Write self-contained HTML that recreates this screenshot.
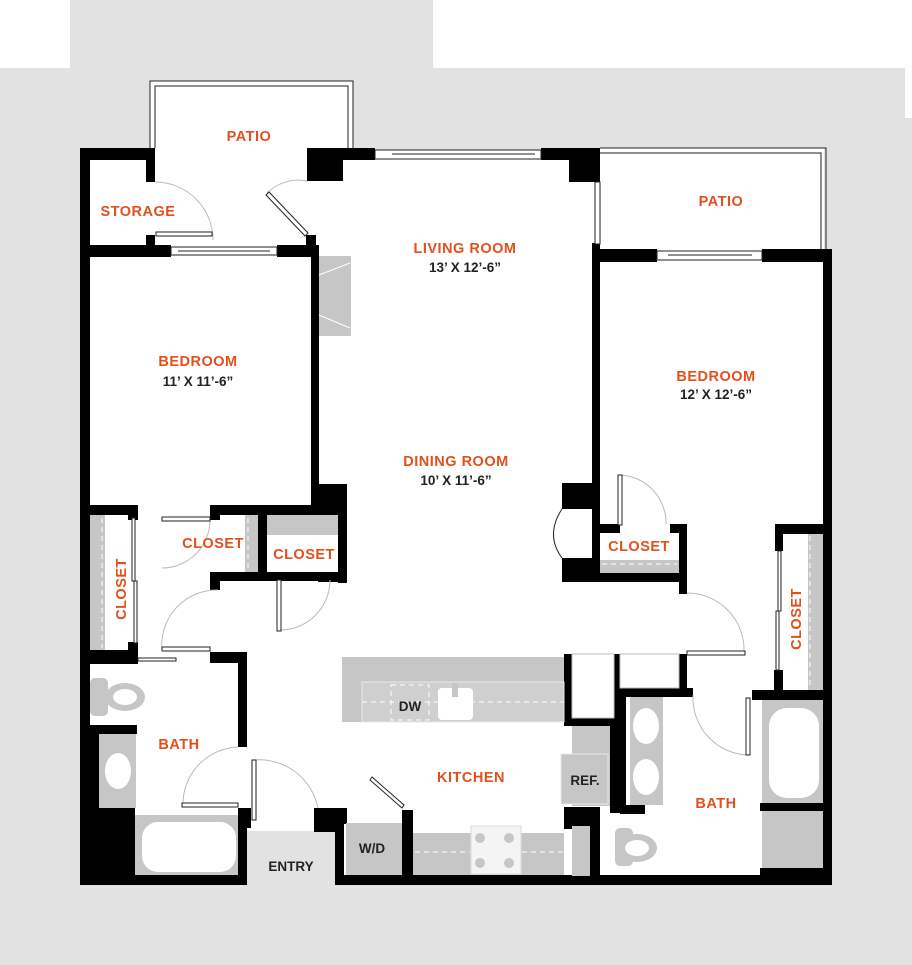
<!DOCTYPE html>
<html><head><meta charset="utf-8"><style>
html,body{margin:0;padding:0;background:#e2e2e2;}
svg{display:block}
.o{fill:#e2501c;font-family:"Liberation Sans",sans-serif;font-weight:bold;font-size:14.5px;letter-spacing:0.5px}
.d{fill:#222;font-family:"Liberation Sans",sans-serif;font-weight:bold;font-size:13.5px}
</style></head><body>
<svg width="912" height="965" viewBox="0 0 912 965" xmlns="http://www.w3.org/2000/svg">
<rect x="0" y="0" width="912" height="965" fill="#e2e2e2"/>
<rect x="0" y="0" width="70" height="68" fill="#fff"/>
<rect x="433" y="0" width="479" height="68" fill="#fff"/>
<rect x="905" y="68" width="7" height="50" fill="#fff"/>

<!-- floor white -->
<rect x="88" y="160" width="225" height="716" fill="#fff"/>
<rect x="150" y="81" width="203" height="170" fill="#fff"/>
<rect x="310" y="150" width="290" height="730" fill="#fff"/>
<rect x="596" y="148" width="228" height="730" fill="#fff"/>
<!-- patios outlines -->
<path d="M150 148 V81 H353 V148" fill="none" stroke="#222" stroke-width="1"/>
<path d="M155 148 V86 H348 V148" fill="none" stroke="#222" stroke-width="1"/>
<path d="M600 148 H826 V249" fill="none" stroke="#222" stroke-width="1"/>
<path d="M600 153 H821 V249" fill="none" stroke="#222" stroke-width="1"/>

<!-- entry -->
<rect x="247" y="831" width="88" height="54" fill="#e2e2e2"/>

<g fill="#000">
<!-- outer -->
<rect x="80" y="148" width="10" height="737"/>
<rect x="80" y="875" width="167" height="10"/>
<rect x="335" y="875" width="497" height="10"/>
<rect x="823" y="249" width="9" height="636"/>
<!-- storage -->
<rect x="80" y="148" width="75" height="12"/>
<rect x="146" y="148" width="9" height="34"/>
<rect x="146" y="235" width="9" height="12"/>
<rect x="80" y="245" width="91" height="12"/>
<rect x="277" y="245" width="41" height="12"/>
<rect x="306" y="235" width="10" height="12"/>
<!-- living top -->
<rect x="307" y="148" width="36" height="33"/>
<rect x="343" y="148" width="32" height="12"/>
<rect x="541" y="148" width="59" height="12"/>
<rect x="569" y="148" width="31" height="34"/>
<!-- bedroom1 right wall -->
<rect x="311" y="245" width="8" height="270"/>
<rect x="311" y="484" width="36" height="30"/>
<rect x="338" y="500" width="9" height="83"/>
<!-- bedroom1 bottom -->
<rect x="80" y="505" width="53" height="10"/>
<rect x="128" y="505" width="10" height="15"/>
<rect x="210" y="505" width="137" height="10"/>
<rect x="210" y="505" width="10" height="15"/>
<rect x="258" y="505" width="9" height="75"/>
<rect x="210" y="572" width="108" height="9"/>
<rect x="210" y="572" width="10" height="18"/>
<rect x="318" y="572" width="29" height="10"/>
<!-- bath1 -->
<rect x="80" y="650" width="50" height="14"/>
<rect x="128" y="642" width="10" height="22"/>
<rect x="210" y="652" width="37" height="11"/>
<rect x="210" y="652" width="10" height="10"/>
<rect x="238" y="656" width="9" height="91"/>
<rect x="80" y="725" width="57" height="9"/>
<rect x="80" y="725" width="19" height="150"/>
<rect x="80" y="808" width="55" height="70"/>
<rect x="238" y="808" width="9" height="70"/>
<rect x="238" y="808" width="13" height="20"/>
<!-- entry right / w-d -->
<rect x="314" y="808" width="33" height="16"/>
<rect x="314" y="820" width="21" height="12"/>
<rect x="335" y="810" width="9" height="70"/>
<rect x="402" y="810" width="11" height="70"/>
<!-- bedroom2 -->
<rect x="592" y="243" width="8" height="330"/>
<rect x="592" y="249" width="65" height="13"/>
<rect x="762" y="249" width="70" height="13"/>
<rect x="562" y="483" width="38" height="26"/>
<rect x="562" y="558" width="38" height="24"/>
<rect x="562" y="573" width="125" height="9"/>
<rect x="592" y="524" width="28" height="9"/>
<rect x="670" y="524" width="17" height="9"/>
<rect x="679" y="524" width="8" height="70"/>
<rect x="775" y="524" width="8" height="27"/>
<rect x="775" y="524" width="50" height="10"/>
<rect x="774" y="670" width="9" height="22"/>
<rect x="752" y="690" width="80" height="10"/>
<rect x="752" y="690" width="10" height="8"/>
<!-- pantry / bath2 -->
<rect x="564" y="654" width="8" height="72"/>
<rect x="564" y="718" width="54" height="8"/>
<rect x="614" y="654" width="6" height="72"/>
<rect x="679" y="654" width="8" height="40"/>
<rect x="620" y="688" width="73" height="9"/>
<rect x="610" y="688" width="16" height="125"/>
<rect x="564" y="807" width="36" height="22"/>
<rect x="590" y="807" width="10" height="75"/>
<rect x="620" y="805" width="25" height="9"/>
<rect x="760" y="803" width="65" height="8"/>
<rect x="760" y="868" width="65" height="12"/>
</g>

<!-- windows -->
<g fill="#fff" stroke="#222" stroke-width="1">
<rect x="171" y="247" width="106" height="8"/>
<line x1="178" y1="251" x2="270" y2="251"/>
<rect x="375" y="150" width="166" height="9"/>
<line x1="392" y1="154" x2="535" y2="154"/>
<rect x="595" y="182" width="5" height="62"/>
<rect x="657" y="251" width="105" height="9"/>
<line x1="668" y1="255" x2="752" y2="255"/>
</g>

<!-- gray fixtures -->
<g fill="#c6c6c6">
<rect x="319" y="256" width="32" height="80"/>
<rect x="90" y="515" width="15" height="135"/>
<rect x="245" y="515" width="13" height="57"/>
<rect x="267" y="515" width="71" height="20"/>
<rect x="600" y="560" width="79" height="13"/>
<rect x="808" y="534" width="15" height="156"/>
<rect x="342" y="657" width="222" height="65"/>
<rect x="572" y="726" width="38" height="80"/>
<rect x="630" y="697" width="33" height="108"/>
<rect x="762" y="700" width="61" height="103"/>
<rect x="762" y="811" width="61" height="57"/>
<rect x="99" y="734" width="37" height="74"/>
<rect x="135" y="815" width="103" height="60"/>
<rect x="413" y="833" width="151" height="42"/>
<rect x="572" y="826" width="18" height="50"/>
<rect x="346" y="823" width="56" height="52"/>
</g>
<rect x="362" y="682" width="202" height="40" fill="#cfcfcf" stroke="#e8e8e8"/>
<rect x="572" y="654" width="42" height="64" fill="#fff" stroke="#bbb"/>
<rect x="620" y="654" width="59" height="34" fill="#fff" stroke="#bbb"/>
<rect x="561" y="754" width="47" height="50" fill="#c6c6c6" stroke="#e8e8e8"/>
<rect x="471" y="826" width="50" height="48" fill="#f4f4f4" stroke="#ddd"/>
<g fill="#c6c6c6"><circle cx="480" cy="838" r="5"/><circle cx="509" cy="838" r="5"/><circle cx="480" cy="863" r="5"/><circle cx="509" cy="863" r="5"/></g>
<rect x="438" y="688" width="35" height="32" rx="4" fill="#fff"/>
<rect x="452" y="683" width="6" height="14" fill="#c6c6c6"/>
<!-- dashed -->
<g stroke="#fff" stroke-width="1" stroke-dasharray="5,4" fill="none">
<line x1="362" y1="702" x2="564" y2="702"/>
<rect x="391" y="685" width="38" height="35"/>
<line x1="102" y1="518" x2="102" y2="648"/>
<line x1="248" y1="518" x2="248" y2="570"/>
<line x1="602" y1="564" x2="677" y2="564"/>
<line x1="810" y1="536" x2="810" y2="688"/>
<line x1="415" y1="852" x2="470" y2="852"/>
<line x1="522" y1="852" x2="568" y2="852"/>
<line x1="568" y1="830" x2="568" y2="852"/>
</g>
<!-- toilets, sinks, tubs -->
<g fill="#c6c6c6">
<rect x="90" y="678" width="18" height="38" rx="5"/>
<ellipse cx="125" cy="697" rx="20" ry="14"/>
<rect x="615" y="828" width="18" height="38" rx="5"/>
<ellipse cx="637" cy="848" rx="20" ry="14"/>
</g>
<ellipse cx="125" cy="697" rx="12" ry="8" fill="#fff"/>
<ellipse cx="637" cy="848" rx="12" ry="8" fill="#fff"/>
<ellipse cx="118" cy="771" rx="13" ry="18" fill="#fff"/>
<ellipse cx="646" cy="726" rx="13" ry="18" fill="#fff"/>
<ellipse cx="646" cy="777" rx="13" ry="18" fill="#fff"/>
<rect x="142" y="822" width="94" height="50" rx="16" fill="#fff"/>
<rect x="769" y="708" width="50" height="90" rx="18" fill="#fff"/>
<!-- bay window curve -->
<path d="M562 509 Q545 535 562 558" fill="#fff" stroke="#222"/>
<!-- fireplace lines -->
<path d="M319 275 L350 263 M319 315 L350 328" stroke="#fff"/>

<!-- doors -->
<g fill="none" stroke="#bbb" stroke-width="1">
<path d="M155 182 A58 58 0 0 1 213 240"/>
<path d="M307 181 A45 45 0 0 0 267 193"/>
<path d="M210 520 A48 48 0 0 1 162 568"/>
<path d="M218 590 A55 55 0 0 0 162 650"/>
<path d="M280 630 A50 50 0 0 0 330 580"/>
<path d="M620 475 A48 48 0 0 1 666 524"/>
<path d="M687 593 A57 57 0 0 1 744 652"/>
<path d="M693 695 A57 57 0 0 0 749 755"/>
<path d="M238 747 A57 57 0 0 0 183 805"/>
<path d="M254 760 A60 60 0 0 1 318 808"/>
</g>
<g fill="#fff" stroke="#222" stroke-width="1">
<rect x="156" y="232" width="56" height="4"/>
<path d="M266 195 L305 236 L308 233 L269 192 Z"/>
<rect x="162" y="517" width="48" height="4"/>
<rect x="162" y="647" width="48" height="4"/>
<rect x="138" y="658" width="38" height="3"/>
<rect x="277" y="580" width="4" height="51"/>
<rect x="618" y="475" width="4" height="50"/>
<rect x="687" y="651" width="58" height="4"/>
<rect x="746" y="698" width="4" height="57"/>
<rect x="182" y="803" width="56" height="4"/>
<rect x="252" y="760" width="4" height="60"/>
<path d="M370 780 L402 808 L404 805 L372 777 Z"/>
<rect x="132" y="518" width="3" height="63"/>
<rect x="134" y="581" width="3" height="62"/>
<rect x="778" y="551" width="3" height="60"/>
<rect x="776" y="611" width="3" height="59"/>
<rect x="600" y="656" width="0" height="0"/>
</g>

<!-- labels -->
<text class="o" x="249" y="141" text-anchor="middle">PATIO</text>
<text class="o" x="138" y="216" text-anchor="middle">STORAGE</text>
<text class="o" x="465" y="253" text-anchor="middle">LIVING ROOM</text>
<text class="d" x="465" y="272" text-anchor="middle">13’ X 12’-6”</text>
<text class="o" x="721" y="206" text-anchor="middle">PATIO</text>
<text class="o" x="198" y="366" text-anchor="middle">BEDROOM</text>
<text class="d" x="198" y="386" text-anchor="middle">11’ X 11’-6”</text>
<text class="o" x="716" y="381" text-anchor="middle">BEDROOM</text>
<text class="d" x="716" y="399" text-anchor="middle">12’ X 12’-6”</text>
<text class="o" x="456" y="466" text-anchor="middle">DINING ROOM</text>
<text class="d" x="456" y="485" text-anchor="middle">10’ X 11’-6”</text>
<text class="o" x="213" y="548" text-anchor="middle">CLOSET</text>
<text class="o" x="304" y="559" text-anchor="middle">CLOSET</text>
<text class="o" x="639" y="551" text-anchor="middle">CLOSET</text>
<text class="o" transform="translate(126,589) rotate(-90)" text-anchor="middle">CLOSET</text>
<text class="o" transform="translate(801,619) rotate(-90)" text-anchor="middle">CLOSET</text>
<text class="o" x="179" y="749" text-anchor="middle">BATH</text>
<text class="o" x="716" y="808" text-anchor="middle">BATH</text>
<text class="o" x="471" y="782" text-anchor="middle">KITCHEN</text>
<text class="d" x="410" y="711" text-anchor="middle">DW</text>
<text class="d" x="585" y="785" text-anchor="middle">REF.</text>
<text class="d" x="372" y="853" text-anchor="middle">W/D</text>
<text class="d" x="291" y="871" text-anchor="middle">ENTRY</text>
</svg>
</body></html>
